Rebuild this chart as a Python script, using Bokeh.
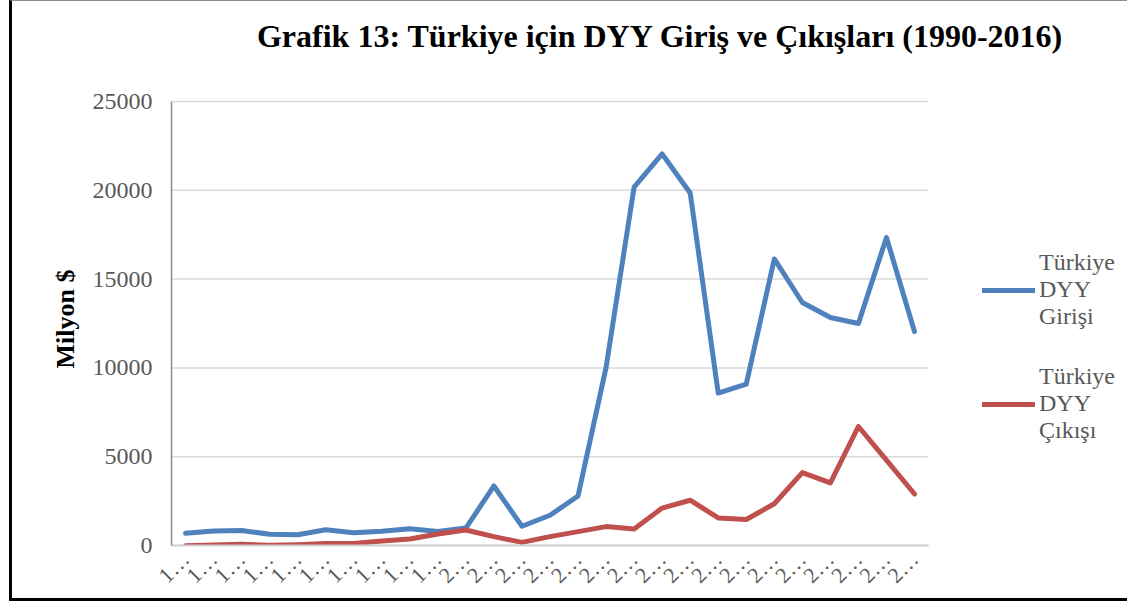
from bokeh.plotting import figure
from bokeh.models import Range1d, Legend, LegendItem, FixedTicker, Label
from bokeh.embed import file_html
from bokeh.resources import INLINE

years = [str(y) for y in range(1990, 2017)]
giris = [684, 810, 844, 636, 608, 885, 722, 805, 940, 783, 982, 3352, 1082, 1702, 2785,
         10031, 20185, 22047, 19851, 8585, 9086, 16136, 13682, 12838, 12500, 17342, 12050]
cikis = [-16, 27, 65, 14, 49, 113, 110, 251, 367, 645, 870, 497, 175, 499, 780,
         1064, 924, 2106, 2549, 1553, 1464, 2349, 4106, 3527, 6700, 4809, 2900]
tick_labels = ["1…" if y.startswith("1") else "2…" for y in years]
y_ticks = [0, 5000, 10000, 15000, 20000, 25000]

title_text = "Grafik 13: Türkiye için DYY Giriş ve Çıkışları (1990-2016)"
y_label = "Milyon $"
legend_labels = ["Türkiye\nDYY\nGirişi", "Türkiye\nDYY\nÇıkışı"]
colors = ["#4F81BD", "#C0504D"]
FONT = "Liberation Serif"

xs = list(range(len(years)))
x_lo, x_hi = -0.5, len(years) - 0.5
y_lo, y_hi = y_ticks[0], y_ticks[-1]

# layout (pixels)
W, H = 1118, 601
LEFT, BOTTOM = 159, 57
plot_w, plot_h = 757, 444          # size of the value area
frame_w, frame_h = W - LEFT, H - BOTTOM   # frame fills the canvas (room for title/legend)
x_end = x_lo + (x_hi - x_lo) * frame_w / plot_w
y_end = y_lo + (y_hi - y_lo) * frame_h / plot_h

p = figure(x_range=Range1d(x_lo, x_end), y_range=Range1d(y_lo, y_end), width=W, height=H,
           output_backend="svg", toolbar_location=None,
           min_border_left=LEFT, min_border_right=0, min_border_top=0, min_border_bottom=BOTTOM)
p.styles = {"border-left": "3px solid black", "border-bottom": "3px solid black",
            "border-top": "1px solid #8C8C8C", "margin-left": "9px"}
p.outline_line_color = None

# horizontal gridlines limited to the value area
p.xgrid.grid_line_color = None
p.ygrid.grid_line_color = None
p.segment(x0=[x_lo] * len(y_ticks), x1=[x_hi] * len(y_ticks), y0=y_ticks, y1=y_ticks,
          line_color="#D9D9D9", line_width=1.5)

r1 = p.line(xs, giris, line_color=colors[0], line_width=5, line_cap="round", line_join="round")
r2 = p.line(xs, cikis, line_color=colors[1], line_width=5, line_cap="round", line_join="round")

p.yaxis.ticker = FixedTicker(ticks=y_ticks)
p.xaxis.ticker = FixedTicker(ticks=xs)
p.xaxis.bounds = (x_lo, x_hi)
p.yaxis.bounds = (y_lo, y_hi)

for ax in (p.xaxis, p.yaxis):
    ax.major_tick_out = 0
    ax.major_tick_in = 0
    ax.minor_tick_out = 0
    ax.minor_tick_in = 0
    ax.major_label_text_font = FONT
    ax.major_label_text_color = "#595959"
    ax.major_label_text_font_style = "normal"

p.yaxis.axis_line_color = "#8C8C8C"
p.yaxis.axis_line_width = 1.5
p.yaxis.major_label_text_font_size = "24px"
p.yaxis.major_label_standoff = 19
# trailing no-break spaces keep the label centred on the value area (frame is taller)
p.yaxis.axis_label = y_label + "\u00a0" * 14
p.yaxis.axis_label_text_font = FONT
p.yaxis.axis_label_text_font_style = "bold"
p.yaxis.axis_label_text_font_size = "26px"
p.yaxis.axis_label_text_color = "black"
p.yaxis.axis_label_standoff = 10

p.xaxis.axis_line_color = "#D0D0D0"
p.xaxis.axis_line_width = 2
p.xaxis.major_label_text_font_size = "22px"
p.xaxis.major_label_orientation = 0.785
p.xaxis.major_label_standoff = 10
p.xaxis.major_label_overrides = {i: t for i, t in zip(xs, tick_labels)}

legend = Legend(items=[LegendItem(label=legend_labels[0], renderers=[r1]),
                       LegendItem(label=legend_labels[1], renderers=[r2])],
                location=(811, 101), border_line_color=None, background_fill_alpha=0,
                padding=0, margin=0, glyph_width=53, label_standoff=4, spacing=33,
                label_text_font=FONT, label_text_font_size="24px", label_text_color="#595959",
                label_text_line_height=1.24)
p.add_layout(legend)

title = Label(x=489, y=510, x_units="screen", y_units="screen", text=title_text,
              text_align="center", text_baseline="middle", text_font=FONT,
              text_font_style="bold", text_font_size="32px", text_color="black")
p.add_layout(title)

open("out.html", "w").write(file_html(p, INLINE))
